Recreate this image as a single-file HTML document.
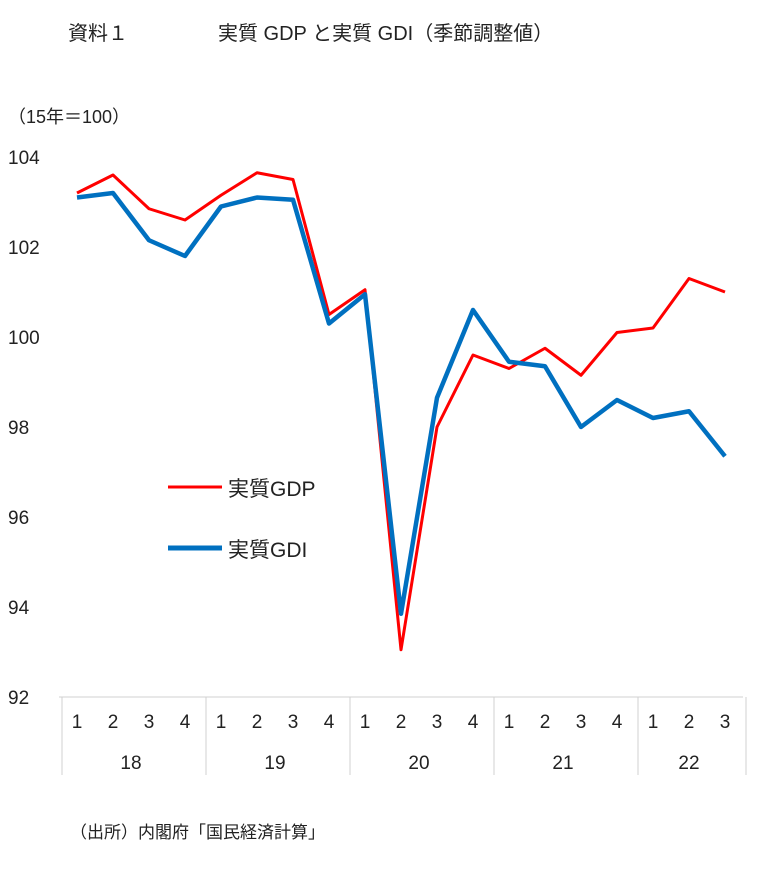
<!DOCTYPE html>
<html><head><meta charset="utf-8"><style>
body{margin:0;background:#fff;width:774px;height:870px;overflow:hidden;font-family:"Liberation Sans","Noto Sans CJK JP",sans-serif;}
svg text{font-family:"Liberation Sans","Noto Sans CJK JP",sans-serif;fill:#222;}
</style></head><body>
<svg width="774" height="870">
<text x="68" y="40" font-size="20">資料１</text>
<text x="218" y="40" font-size="20">実質 GDP と実質 GDI（季節調整値）</text>
<text x="8" y="123" font-size="18">（15年＝100）</text>
<g id="yaxis"></g><g id="xaxis"></g><g id="series"></g>
<line x1="168" y1="487" x2="222" y2="487" stroke="#ff0000" stroke-width="3"/>
<text x="228" y="496" font-size="21">実質GDP</text>
<line x1="168" y1="548" x2="222" y2="548" stroke="#0070c0" stroke-width="5"/>
<text x="228" y="557" font-size="21">実質GDI</text>
<text x="70" y="838" font-size="17">（出所）内閣府「国民経済計算」</text>
</svg>
<script>
const quarters=["1","2","3","4","1","2","3","4","1","2","3","4","1","2","3","4","1","2","3"];
const years=["18","19","20","21","22"];
const yearCounts=[4,4,4,4,3];
const yTicks=[92,94,96,98,100,102,104];
const gdp=[103.2,103.6,102.85,102.6,103.15,103.65,103.5,100.5,101.05,93.05,98.0,99.6,99.3,99.75,99.15,100.1,100.2,101.3,101.0];
const gdi=[103.1,103.2,102.15,101.8,102.9,103.1,103.05,100.3,100.95,93.85,98.65,100.6,99.45,99.35,98.0,98.6,98.2,98.35,97.35];
const NS="http://www.w3.org/2000/svg";
const x0=59,cw=36,yBase=697;
const y=v=>yBase-(v-92)*45;
const xc=i=>x0+cw*i+cw/2;
function mk(t,a,p){const e=document.createElementNS(NS,t);for(const k in a)e.setAttribute(k,a[k]);p.appendChild(e);return e;}
const ya=document.getElementById('yaxis');
yTicks.forEach(t=>{const e=mk('text',{x:8,y:y(t)+7,'font-size':19},ya);e.textContent=t;

});
const xa=document.getElementById('xaxis');
const base=mk('line',{x1:x0,y1:yBase,x2:x0+cw*quarters.length,y2:yBase,stroke:'#d0d0d0'},xa);


quarters.forEach((q,i)=>{const e=mk('text',{x:xc(i),y:728,'font-size':19,'text-anchor':'middle'},xa);e.textContent=q;

});
let s=0;
const sep0=mk('line',{x1:x0+3,y1:yBase,x2:x0+3,y2:775,stroke:'#d0d0d0'},xa);


years.forEach((yr,k)=>{const n=yearCounts[k];const mid=x0+cw*(s+n/2);
const e=mk('text',{x:mid,y:769,'font-size':19,'text-anchor':'middle'},xa);e.textContent=yr;


s+=n;const lx=x0+cw*s+3;
const l=mk('line',{x1:lx,y1:yBase,x2:lx,y2:775,stroke:'#d0d0d0'},xa);

});
const sg=document.getElementById('series');
function line(d,c,w,name){const p=mk('polyline',{points:d.map((v,i)=>xc(i)+','+y(v)).join(' '),fill:'none',stroke:c,'stroke-width':w,'stroke-linejoin':'round'},sg);

}
line(gdp,'#ff0000',3,'gdp-line');
line(gdi,'#0070c0',4.5,'gdi-line');
</script>
</body></html>
